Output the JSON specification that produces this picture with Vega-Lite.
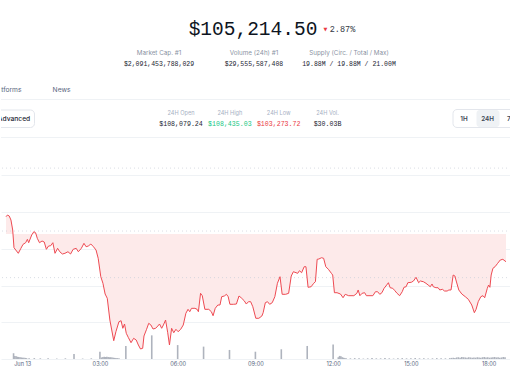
{
  "$schema": "https://vega.github.io/schema/vega-lite/v6.json",
  "padding": 0,
  "spacing": 0,
  "bounds": "flush",
  "background": "white",
  "config": {"view": {"stroke": null}},
  "datasets": {
    "price": [
      {"t":"2025-06-12T23:22:30","p":106869,"b":106400},{"t":"2025-06-12T23:26","p":106915,"b":106400},{"t":"2025-06-12T23:30","p":106888,"b":106400},{"t":"2025-06-12T23:34","p":106779,"b":106400},{"t":"2025-06-12T23:38","p":106508,"b":106400},{"t":"2025-06-12T23:41","p":106027,"b":106400},{"t":"2025-06-12T23:51","p":105875,"b":106400},{"t":"2025-06-12T23:57","p":106011,"b":106400},
      {"t":"2025-06-13T00:02","p":106119,"b":106400},{"t":"2025-06-13T00:08","p":106163,"b":106400},{"t":"2025-06-13T00:12","p":106255,"b":106400},{"t":"2025-06-13T00:15","p":106163,"b":106400},{"t":"2025-06-13T00:22","p":106372,"b":106400},{"t":"2025-06-13T00:27","p":106462,"b":106400},{"t":"2025-06-13T00:31","p":106434,"b":106400},{"t":"2025-06-13T00:35","p":106282,"b":106400},{"t":"2025-06-13T00:40","p":106163,"b":106400},{"t":"2025-06-13T00:46","p":106209,"b":106400},{"t":"2025-06-13T00:51","p":106182,"b":106400},{"t":"2025-06-13T00:56","p":105983,"b":106400},
      {"t":"2025-06-13T01:01","p":106073,"b":106400},{"t":"2025-06-13T01:06","p":106081,"b":106400},{"t":"2025-06-13T01:11","p":106163,"b":106400},{"t":"2025-06-13T01:16","p":105875,"b":106400},{"t":"2025-06-13T01:22","p":106011,"b":106400},{"t":"2025-06-13T01:27","p":105918,"b":106400},{"t":"2025-06-13T01:33","p":105856,"b":106400},{"t":"2025-06-13T01:39","p":105875,"b":106400},{"t":"2025-06-13T01:46","p":105918,"b":106400},{"t":"2025-06-13T01:52","p":105856,"b":106400},{"t":"2025-06-13T01:58","p":105983,"b":106400},
      {"t":"2025-06-13T02:05","p":106011,"b":106400},{"t":"2025-06-13T02:10","p":105918,"b":106400},{"t":"2025-06-13T02:17","p":106011,"b":106400},{"t":"2025-06-13T02:23","p":106146,"b":106400},{"t":"2025-06-13T02:28","p":106054,"b":106400},{"t":"2025-06-13T02:33","p":106073,"b":106400},{"t":"2025-06-13T02:39","p":106127,"b":106400},{"t":"2025-06-13T02:45","p":106054,"b":106400},{"t":"2025-06-13T02:51","p":105964,"b":106400},{"t":"2025-06-13T02:56","p":105739,"b":106400},
      {"t":"2025-06-13T03:02","p":105239,"b":106400},{"t":"2025-06-13T03:07","p":105060,"b":106400},{"t":"2025-06-13T03:12","p":104769,"b":106400},{"t":"2025-06-13T03:17","p":104652,"b":106400},{"t":"2025-06-13T03:23","p":104062,"b":106400},{"t":"2025-06-13T03:32","p":103500,"b":106400},{"t":"2025-06-13T03:37","p":103745,"b":106400},{"t":"2025-06-13T03:44","p":104016,"b":106400},{"t":"2025-06-13T03:49","p":104043,"b":106400},{"t":"2025-06-13T03:53","p":103837,"b":106400},{"t":"2025-06-13T03:57","p":103954,"b":106400},
      {"t":"2025-06-13T04:01","p":103701,"b":106400},{"t":"2025-06-13T04:06","p":103582,"b":106400},{"t":"2025-06-13T04:12","p":103446,"b":106400},{"t":"2025-06-13T04:18","p":103565,"b":106400},{"t":"2025-06-13T04:24","p":103519,"b":106400},{"t":"2025-06-13T04:29","p":103383,"b":106400},{"t":"2025-06-13T04:34","p":103275,"b":106400},{"t":"2025-06-13T04:39","p":103294,"b":106400},{"t":"2025-06-13T04:42","p":103628,"b":106400},{"t":"2025-06-13T04:48","p":103810,"b":106400},{"t":"2025-06-13T04:53","p":103973,"b":106400},{"t":"2025-06-13T04:58","p":103927,"b":106400},
      {"t":"2025-06-13T05:03","p":103818,"b":106400},{"t":"2025-06-13T05:09","p":103837,"b":106400},{"t":"2025-06-13T05:14","p":103899,"b":106400},{"t":"2025-06-13T05:18","p":103954,"b":106400},{"t":"2025-06-13T05:23","p":103837,"b":106400},{"t":"2025-06-13T05:27","p":103927,"b":106400},{"t":"2025-06-13T05:32","p":104062,"b":106400},{"t":"2025-06-13T05:37","p":103717,"b":106400},{"t":"2025-06-13T05:41","p":103383,"b":106400},{"t":"2025-06-13T05:46","p":103837,"b":106400},{"t":"2025-06-13T05:51","p":103717,"b":106400},{"t":"2025-06-13T05:56","p":103810,"b":106400},
      {"t":"2025-06-13T06:01","p":103745,"b":106400},{"t":"2025-06-13T06:07","p":103810,"b":106400},{"t":"2025-06-13T06:13","p":103927,"b":106400},{"t":"2025-06-13T06:19","p":104245,"b":106400},{"t":"2025-06-13T06:24","p":104353,"b":106400},{"t":"2025-06-13T06:28","p":104288,"b":106400},{"t":"2025-06-13T06:32","p":104380,"b":106400},{"t":"2025-06-13T06:40","p":104380,"b":106400},{"t":"2025-06-13T06:45","p":104353,"b":106400},{"t":"2025-06-13T06:48","p":104288,"b":106400},{"t":"2025-06-13T06:53","p":104788,"b":106400},{"t":"2025-06-13T06:57","p":104723,"b":106400},
      {"t":"2025-06-13T07:03","p":104353,"b":106400},{"t":"2025-06-13T07:12","p":104353,"b":106400},{"t":"2025-06-13T07:18","p":104288,"b":106400},{"t":"2025-06-13T07:22","p":104179,"b":106400},{"t":"2025-06-13T07:27","p":104380,"b":106400},{"t":"2025-06-13T07:33","p":104470,"b":106400},{"t":"2025-06-13T07:38","p":104470,"b":106400},{"t":"2025-06-13T07:42","p":104696,"b":106400},{"t":"2025-06-13T07:48","p":104715,"b":106400},{"t":"2025-06-13T07:53","p":104761,"b":106400},{"t":"2025-06-13T07:57","p":104696,"b":106400},
      {"t":"2025-06-13T08:01","p":104489,"b":106400},{"t":"2025-06-13T08:09","p":104489,"b":106400},{"t":"2025-06-13T08:16","p":104497,"b":106400},{"t":"2025-06-13T08:22","p":104715,"b":106400},{"t":"2025-06-13T08:27","p":104668,"b":106400},{"t":"2025-06-13T08:34","p":104587,"b":106400},{"t":"2025-06-13T08:39","p":104497,"b":106400},{"t":"2025-06-13T08:44","p":104560,"b":106400},{"t":"2025-06-13T08:49","p":104560,"b":106400},{"t":"2025-06-13T08:54","p":104424,"b":106400},{"t":"2025-06-13T08:59","p":104198,"b":106400},
      {"t":"2025-06-13T09:01","p":104109,"b":106400},{"t":"2025-06-13T09:08","p":104109,"b":106400},{"t":"2025-06-13T09:15","p":104171,"b":106400},{"t":"2025-06-13T09:18","p":104261,"b":106400},{"t":"2025-06-13T09:23","p":104533,"b":106400},{"t":"2025-06-13T09:28","p":104560,"b":106400},{"t":"2025-06-13T09:33","p":104489,"b":106400},{"t":"2025-06-13T09:39","p":104533,"b":106400},{"t":"2025-06-13T09:45","p":104696,"b":106400},{"t":"2025-06-13T09:51","p":105060,"b":106400},{"t":"2025-06-13T09:57","p":105239,"b":106400},
      {"t":"2025-06-13T10:02","p":104761,"b":106400},{"t":"2025-06-13T10:10","p":104761,"b":106400},{"t":"2025-06-13T10:17","p":104788,"b":106400},{"t":"2025-06-13T10:23","p":105258,"b":106400},{"t":"2025-06-13T10:28","p":105375,"b":106400},{"t":"2025-06-13T10:34","p":105348,"b":106400},{"t":"2025-06-13T10:38","p":105331,"b":106400},{"t":"2025-06-13T10:42","p":105402,"b":106400},{"t":"2025-06-13T10:47","p":105348,"b":106400},{"t":"2025-06-13T10:53","p":105511,"b":106400},{"t":"2025-06-13T10:57","p":105511,"b":106400},
      {"t":"2025-06-13T11:02","p":104951,"b":106400},{"t":"2025-06-13T11:09","p":104967,"b":106400},{"t":"2025-06-13T11:15","p":105060,"b":106400},{"t":"2025-06-13T11:19","p":105103,"b":106400},{"t":"2025-06-13T11:23","p":105712,"b":106400},{"t":"2025-06-13T11:27","p":105720,"b":106400},{"t":"2025-06-13T11:33","p":105755,"b":106400},{"t":"2025-06-13T11:38","p":105739,"b":106400},{"t":"2025-06-13T11:43","p":105511,"b":106400},{"t":"2025-06-13T11:49","p":105440,"b":106400},{"t":"2025-06-13T11:56","p":105331,"b":106400},{"t":"2025-06-13T11:59","p":105285,"b":106400},
      {"t":"2025-06-13T12:03","p":104804,"b":106400},{"t":"2025-06-13T12:09","p":104804,"b":106400},{"t":"2025-06-13T12:17","p":104769,"b":106400},{"t":"2025-06-13T12:23","p":104668,"b":106400},{"t":"2025-06-13T12:28","p":104761,"b":106400},{"t":"2025-06-13T12:36","p":104723,"b":106400},{"t":"2025-06-13T12:48","p":104723,"b":106400},{"t":"2025-06-13T12:55","p":104788,"b":106400},{"t":"2025-06-13T12:58","p":104878,"b":106400},
      {"t":"2025-06-13T13:02","p":104723,"b":106400},{"t":"2025-06-13T13:07","p":104788,"b":106400},{"t":"2025-06-13T13:13","p":104804,"b":106400},{"t":"2025-06-13T13:17","p":104723,"b":106400},{"t":"2025-06-13T13:32","p":104723,"b":106400},{"t":"2025-06-13T13:38","p":104831,"b":106400},{"t":"2025-06-13T13:43","p":104831,"b":106400},{"t":"2025-06-13T13:48","p":104761,"b":106400},{"t":"2025-06-13T13:53","p":104804,"b":106400},{"t":"2025-06-13T13:58","p":104924,"b":106400},
      {"t":"2025-06-13T14:04","p":105013,"b":106400},{"t":"2025-06-13T14:08","p":105076,"b":106400},{"t":"2025-06-13T14:12","p":104940,"b":106400},{"t":"2025-06-13T14:18","p":104924,"b":106400},{"t":"2025-06-13T14:23","p":104859,"b":106400},{"t":"2025-06-13T14:28","p":104788,"b":106400},{"t":"2025-06-13T14:34","p":104723,"b":106400},{"t":"2025-06-13T14:40","p":104831,"b":106400},{"t":"2025-06-13T14:44","p":104951,"b":106400},{"t":"2025-06-13T14:49","p":104967,"b":106400},{"t":"2025-06-13T14:53","p":105076,"b":106400},
      {"t":"2025-06-13T15:01","p":105087,"b":106400},{"t":"2025-06-13T15:06","p":105122,"b":106400},{"t":"2025-06-13T15:12","p":105223,"b":106400},{"t":"2025-06-13T15:18","p":105076,"b":106400},{"t":"2025-06-13T15:22","p":105122,"b":106400},{"t":"2025-06-13T15:29","p":105103,"b":106400},{"t":"2025-06-13T15:35","p":105060,"b":106400},{"t":"2025-06-13T15:40","p":105013,"b":106400},{"t":"2025-06-13T15:45","p":104967,"b":106400},{"t":"2025-06-13T15:49","p":105041,"b":106400},{"t":"2025-06-13T15:52","p":104967,"b":106400},{"t":"2025-06-13T15:58","p":104940,"b":106400},
      {"t":"2025-06-13T16:03","p":104940,"b":106400},{"t":"2025-06-13T16:07","p":104878,"b":106400},{"t":"2025-06-13T16:13","p":104897,"b":106400},{"t":"2025-06-13T16:18","p":104850,"b":106400},{"t":"2025-06-13T16:24","p":104850,"b":106400},{"t":"2025-06-13T16:28","p":104878,"b":106400},{"t":"2025-06-13T16:33","p":104878,"b":106400},{"t":"2025-06-13T16:38","p":105285,"b":106400},{"t":"2025-06-13T16:42","p":105258,"b":106400},{"t":"2025-06-13T16:45","p":105122,"b":106400},{"t":"2025-06-13T16:51","p":104878,"b":106400},{"t":"2025-06-13T16:58","p":104769,"b":106400},
      {"t":"2025-06-13T17:06","p":104696,"b":106400},{"t":"2025-06-13T17:13","p":104625,"b":106400},{"t":"2025-06-13T17:21","p":104470,"b":106400},{"t":"2025-06-13T17:27","p":104261,"b":106400},{"t":"2025-06-13T17:31","p":104353,"b":106400},{"t":"2025-06-13T17:36","p":104560,"b":106400},{"t":"2025-06-13T17:42","p":104696,"b":106400},{"t":"2025-06-13T17:47","p":104723,"b":106400},{"t":"2025-06-13T17:51","p":104668,"b":106400},{"t":"2025-06-13T17:57","p":104924,"b":106400},
      {"t":"2025-06-13T18:00","p":105013,"b":106400},{"t":"2025-06-13T18:03","p":104951,"b":106400},{"t":"2025-06-13T18:06","p":105285,"b":106400},{"t":"2025-06-13T18:10","p":105467,"b":106400},{"t":"2025-06-13T18:15","p":105511,"b":106400},{"t":"2025-06-13T18:21","p":105603,"b":106400},{"t":"2025-06-13T18:27","p":105693,"b":106400},{"t":"2025-06-13T18:33","p":105712,"b":106400},{"t":"2025-06-13T18:38","p":105666,"b":106400},{"t":"2025-06-13T18:40:18","p":105647,"b":106400}
    ],
    "volume": [
      {"t":"2025-06-12T23:40","v":26},{"t":"2025-06-12T23:43","v":14},{"t":"2025-06-12T23:46","v":12},{"t":"2025-06-12T23:49","v":10},{"t":"2025-06-12T23:52","v":9},{"t":"2025-06-12T23:55","v":8},{"t":"2025-06-12T23:58","v":7},
      {"t":"2025-06-13T00:01","v":6},{"t":"2025-06-13T00:04","v":6},{"t":"2025-06-13T00:07","v":5},{"t":"2025-06-13T00:10","v":4},{"t":"2025-06-13T00:16","v":3},{"t":"2025-06-13T00:28","v":4},{"t":"2025-06-13T00:42","v":3},{"t":"2025-06-13T01:00","v":3},{"t":"2025-06-13T01:20","v":2},{"t":"2025-06-13T01:40","v":3},
      {"t":"2025-06-13T02:00","v":23},{"t":"2025-06-13T02:20","v":2},{"t":"2025-06-13T02:40","v":3},
      {"t":"2025-06-13T03:00","v":33},{"t":"2025-06-13T03:04","v":7},{"t":"2025-06-13T03:07","v":9},{"t":"2025-06-13T03:10","v":10},{"t":"2025-06-13T03:13","v":9},{"t":"2025-06-13T03:16","v":10},{"t":"2025-06-13T03:19","v":9},{"t":"2025-06-13T03:22","v":8},{"t":"2025-06-13T03:25","v":8},{"t":"2025-06-13T03:28","v":7},{"t":"2025-06-13T03:31","v":6},{"t":"2025-06-13T03:34","v":5},{"t":"2025-06-13T03:37","v":5},{"t":"2025-06-13T03:40","v":4},{"t":"2025-06-13T03:44","v":3},
      {"t":"2025-06-13T04:00","v":59},{"t":"2025-06-13T05:00","v":107},{"t":"2025-06-13T06:00","v":63},{"t":"2025-06-13T07:00","v":56},{"t":"2025-06-13T08:00","v":41},{"t":"2025-06-13T09:00","v":33},{"t":"2025-06-13T10:00","v":44},{"t":"2025-06-13T11:00","v":59},{"t":"2025-06-13T12:00","v":66},
      {"t":"2025-06-13T12:12","v":8},{"t":"2025-06-13T12:15","v":14},{"t":"2025-06-13T12:18","v":12},{"t":"2025-06-13T12:21","v":8},{"t":"2025-06-13T12:24","v":6},{"t":"2025-06-13T12:27","v":4},{"t":"2025-06-13T12:30","v":3},
      {"t":"2025-06-13T12:40","v":3},{"t":"2025-06-13T12:50","v":4},{"t":"2025-06-13T13:00","v":3},{"t":"2025-06-13T13:10","v":2},{"t":"2025-06-13T13:20","v":3},{"t":"2025-06-13T13:30","v":4},{"t":"2025-06-13T13:40","v":3},{"t":"2025-06-13T13:50","v":3},{"t":"2025-06-13T14:00","v":4},{"t":"2025-06-13T14:10","v":3},{"t":"2025-06-13T14:20","v":2},{"t":"2025-06-13T14:30","v":3},{"t":"2025-06-13T14:40","v":4},{"t":"2025-06-13T14:50","v":3},{"t":"2025-06-13T15:00","v":3},{"t":"2025-06-13T15:10","v":4},{"t":"2025-06-13T15:20","v":3},{"t":"2025-06-13T15:30","v":3},{"t":"2025-06-13T15:40","v":2},{"t":"2025-06-13T15:50","v":3},{"t":"2025-06-13T16:00","v":4},{"t":"2025-06-13T16:10","v":3},{"t":"2025-06-13T16:20","v":3},{"t":"2025-06-13T16:30","v":4},
      {"t":"2025-06-13T16:34","v":5},{"t":"2025-06-13T16:38","v":6},{"t":"2025-06-13T16:42","v":5},{"t":"2025-06-13T16:46","v":7},{"t":"2025-06-13T16:50","v":8},{"t":"2025-06-13T16:54","v":6},{"t":"2025-06-13T16:58","v":9},{"t":"2025-06-13T17:02","v":8},{"t":"2025-06-13T17:06","v":7},{"t":"2025-06-13T17:10","v":6},{"t":"2025-06-13T17:14","v":8},{"t":"2025-06-13T17:18","v":7},{"t":"2025-06-13T17:22","v":6},{"t":"2025-06-13T17:26","v":7},{"t":"2025-06-13T17:30","v":6},{"t":"2025-06-13T17:34","v":8},{"t":"2025-06-13T17:38","v":7},{"t":"2025-06-13T17:42","v":6},{"t":"2025-06-13T17:46","v":8},{"t":"2025-06-13T17:50","v":9},{"t":"2025-06-13T17:54","v":7},{"t":"2025-06-13T17:58","v":8},{"t":"2025-06-13T18:02","v":6},{"t":"2025-06-13T18:06","v":7},{"t":"2025-06-13T18:10","v":8},{"t":"2025-06-13T18:14","v":9},{"t":"2025-06-13T18:18","v":7},{"t":"2025-06-13T18:22","v":8},{"t":"2025-06-13T18:26","v":6},{"t":"2025-06-13T18:30","v":7},{"t":"2025-06-13T18:34","v":9},{"t":"2025-06-13T18:38","v":8}
    ],
    "levels": [{"level":108190},{"level":106480},{"level":105214.5}],
    "stats": [
      {"stat":"Market Cap. #1","value":"$2,091,453,788,029"},
      {"stat":"Volume (24h) #1","value":"$29,555,587,408"},
      {"stat":"Supply (Circ. / Total / Max)","value":"19.88M / 19.88M / 21.00M"}
    ],
    "range24": [
      {"stat":"24H Open","value":"$108,079.24","tone":"flat"},
      {"stat":"24H High","value":"$108,435.03","tone":"up"},
      {"stat":"24H Low","value":"$103,273.72","tone":"down"},
      {"stat":"24H Vol.","value":"$30.03B","tone":"flat"}
    ],
    "ranges": [{"r":"1H"},{"r":"24H"},{"r":"7D"}]
  },
  "vconcat": [
    {
      "width": 510,
      "height": 138,
      "resolve": {"scale": {"x": "independent", "y": "independent", "color": "independent"}},
      "layer": [
        {
          "data": {"values": [{"line":"tabs"},{"line":"chart"}]},
          "mark": {"type":"rule","color":"#eff2f5","strokeWidth":1},
          "encoding": {"y": {"field":"line","type":"nominal","sort":null,"scale":{"type":"point","range":[99.5,137.5],"padding":0},"axis":null}}
        },
        {
          "data": {"values": [{"btn":"Advanced"}]},
          "mark": {"type":"bar","fill":"white","stroke":"#e3e6ec","strokeWidth":1,"cornerRadius":4,"clip":true},
          "encoding": {
            "x": {"field":"btn","type":"nominal","scale":{"type":"band","range":[-20,33.5],"paddingInner":0,"paddingOuter":0},"axis":null},
            "y": {"field":"btn","type":"nominal","scale":{"type":"band","range":[110,127.5],"paddingInner":0,"paddingOuter":0},"axis":null}
          }
        },
        {
          "data": {"values": [{"btn":"range"}]},
          "mark": {"type":"bar","fill":"white","stroke":"#e3e6ec","strokeWidth":1,"cornerRadius":4,"clip":true},
          "encoding": {
            "x": {"field":"btn","type":"nominal","scale":{"type":"band","range":[452,540],"paddingInner":0,"paddingOuter":0},"axis":null},
            "y": {"field":"btn","type":"nominal","scale":{"type":"band","range":[109.5,127.5],"paddingInner":0,"paddingOuter":0},"axis":null}
          }
        },
        {
          "data": {"values": [{"btn":"24H"}]},
          "mark": {"type":"bar","fill":"#eff2f5","cornerRadius":3},
          "encoding": {
            "x": {"field":"btn","type":"nominal","scale":{"type":"band","range":[475.5,498.5],"paddingInner":0,"paddingOuter":0},"axis":null},
            "y": {"field":"btn","type":"nominal","scale":{"type":"band","range":[110,127],"paddingInner":0,"paddingOuter":0},"axis":null}
          }
        },
        {
          "data": {"values": [{"label":"$105,214.50"}]},
          "mark": {"type":"text","font":"Liberation Mono","fontSize":19.5,"color":"#0d1421","baseline":"middle"},
          "encoding": {
            "x": {"field":"label","type":"nominal","scale":{"type":"point","range":[252,252],"padding":0},"axis":null},
            "y": {"field":"label","type":"nominal","scale":{"type":"point","range":[28.5,28.5],"padding":0},"axis":null},
            "text": {"field":"label"}
          }
        },
        {
          "data": {"values": [{"label":"▼"}]},
          "mark": {"type":"text","font":"DejaVu Sans","fontSize":5,"color":"#ea3943","baseline":"middle"},
          "encoding": {
            "x": {"field":"label","type":"nominal","scale":{"type":"point","range":[324.5,324.5],"padding":0},"axis":null},
            "y": {"field":"label","type":"nominal","scale":{"type":"point","range":[29,29],"padding":0},"axis":null},
            "text": {"field":"label"}
          }
        },
        {
          "data": {"values": [{"label":"2.87%"}]},
          "mark": {"type":"text","font":"Liberation Mono","fontSize":8.5,"color":"#333a45","baseline":"middle"},
          "encoding": {
            "x": {"field":"label","type":"nominal","scale":{"type":"point","range":[341.5,341.5],"padding":0},"axis":null},
            "y": {"field":"label","type":"nominal","scale":{"type":"point","range":[29,29],"padding":0},"axis":null},
            "text": {"field":"label"}
          }
        },
        {
          "data": {"name":"stats"},
          "mark": {"type":"text","font":"Inter","fontSize":6.3,"color":"#8a93a3","baseline":"middle"},
          "encoding": {
            "x": {"field":"stat","type":"nominal","sort":null,"scale":{"type":"point","range":[158,348],"padding":0},"axis":null},
            "y": {"datum":"label","type":"nominal","scale":{"type":"point","range":[52.5,52.5],"padding":0},"axis":null},
            "text": {"field":"stat"}
          }
        },
        {
          "data": {"name":"stats"},
          "mark": {"type":"text","font":"Liberation Mono","fontSize":6.5,"color":"#222531","baseline":"middle"},
          "encoding": {
            "x": {"field":"stat","type":"nominal","sort":null,"scale":{"type":"point","range":[158,348],"padding":0},"axis":null},
            "y": {"datum":"value","type":"nominal","scale":{"type":"point","range":[63.5,63.5],"padding":0},"axis":null},
            "text": {"field":"value"}
          }
        },
        {
          "data": {"values": [{"tab":"Platforms"},{"tab":"News"}]},
          "mark": {"type":"text","font":"Inter","fontSize":6.7,"color":"#58667e","baseline":"middle","clip":true},
          "encoding": {
            "x": {"field":"tab","type":"nominal","sort":null,"scale":{"type":"point","range":[5.5,60.5],"padding":0},"axis":null},
            "y": {"datum":"tab","type":"nominal","scale":{"type":"point","range":[89.5,89.5],"padding":0},"axis":null},
            "text": {"field":"tab"}
          }
        },
        {
          "data": {"values": [{"btn":"Advanced"}]},
          "mark": {"type":"text","font":"Inter","fontSize":6.7,"fontWeight":500,"color":"#222531","baseline":"middle","clip":true},
          "encoding": {
            "x": {"field":"btn","type":"nominal","scale":{"type":"point","range":[13,13],"padding":0},"axis":null},
            "y": {"field":"btn","type":"nominal","scale":{"type":"point","range":[118.5,118.5],"padding":0},"axis":null},
            "text": {"field":"btn"}
          }
        },
        {
          "data": {"name":"range24"},
          "mark": {"type":"text","font":"Inter","fontSize":5.6,"color":"#a6b0c3","baseline":"middle"},
          "encoding": {
            "x": {"field":"stat","type":"nominal","sort":null,"scale":{"type":"point","range":[180,326.5],"padding":0},"axis":null},
            "y": {"datum":"label","type":"nominal","scale":{"type":"point","range":[113,113],"padding":0},"axis":null},
            "text": {"field":"stat"}
          }
        },
        {
          "data": {"name":"range24"},
          "mark": {"type":"text","font":"Liberation Mono","fontSize":6.6,"baseline":"middle"},
          "encoding": {
            "x": {"field":"stat","type":"nominal","sort":null,"scale":{"type":"point","range":[180,326.5],"padding":0},"axis":null},
            "y": {"datum":"value","type":"nominal","scale":{"type":"point","range":[124,124],"padding":0},"axis":null},
            "text": {"field":"value"},
            "color": {"field":"tone","type":"nominal","scale":{"domain":["flat","up","down"],"range":["#222531","#16c784","#ea3943"]},"legend":null}
          }
        },
        {
          "data": {"name":"ranges"},
          "mark": {"type":"text","font":"Inter","fontSize":6.3,"fontWeight":600,"color":"#3d4756","baseline":"middle","clip":true},
          "encoding": {
            "x": {"field":"r","type":"nominal","sort":null,"scale":{"type":"point","range":[463,510],"padding":0},"axis":null},
            "y": {"datum":"r","type":"nominal","scale":{"type":"point","range":[118.5,118.5],"padding":0},"axis":null},
            "text": {"field":"r"}
          }
        }
      ]
    },
    {
      "width": 510,
      "height": 221,
      "resolve": {"scale": {"y": "independent"}},
      "layer": [
        {
          "layer": [
            {
              "data": {"name":"price"},
              "mark": {"type":"area","color":"#fdeaea"},
              "encoding": {
                "x": {"field":"t","type":"temporal","scale":{"nice":false},
                  "axis": {"title":null,"tickCount":7,"labelExpr":"hours(datum.value)==0 ? timeFormat(datum.value,'%b %d') : timeFormat(datum.value,'%H:%M')","grid":false,"ticks":false,"domain":true,"domainColor":"#eff2f5","labelColor":"#58667e","labelFontSize":5.6,"labelFont":"Inter","labelPadding":2,"labelFlush":false,"labelOverlap":false}},
                "y": {"field":"p","type":"quantitative","scale":{"domain":[103003,109008],"nice":false,"zero":false},
                  "axis": {"title":null,"values":[104000,105000,106000,107000,108000],"labels":false,"ticks":false,"domain":false,"grid":true,"gridColor":"#eff2f5","gridWidth":1}},
                "y2": {"field":"b"}
              }
            },
            {
              "data": {"name":"levels"},
              "mark": {"type":"rule","color":"#c9ced8","strokeDash":[1,3],"strokeWidth":1,"opacity":0.7},
              "encoding": {"y": {"field":"level","type":"quantitative"}}
            },
            {
              "data": {"name":"price"},
              "mark": {"type":"line","color":"#ee4a52","strokeWidth":1},
              "encoding": {
                "x": {"field":"t","type":"temporal"},
                "y": {"field":"p","type":"quantitative"}
              }
            }
          ]
        },
        {
          "data": {"name":"volume"},
          "mark": {"type":"bar","size":1.6,"color":"#aeb3bd"},
          "encoding": {
            "x": {"field":"t","type":"temporal"},
            "y": {"field":"v","type":"quantitative","scale":{"domain":[0,1000]},"axis":null}
          }
        }
      ]
    }
  ]
}
